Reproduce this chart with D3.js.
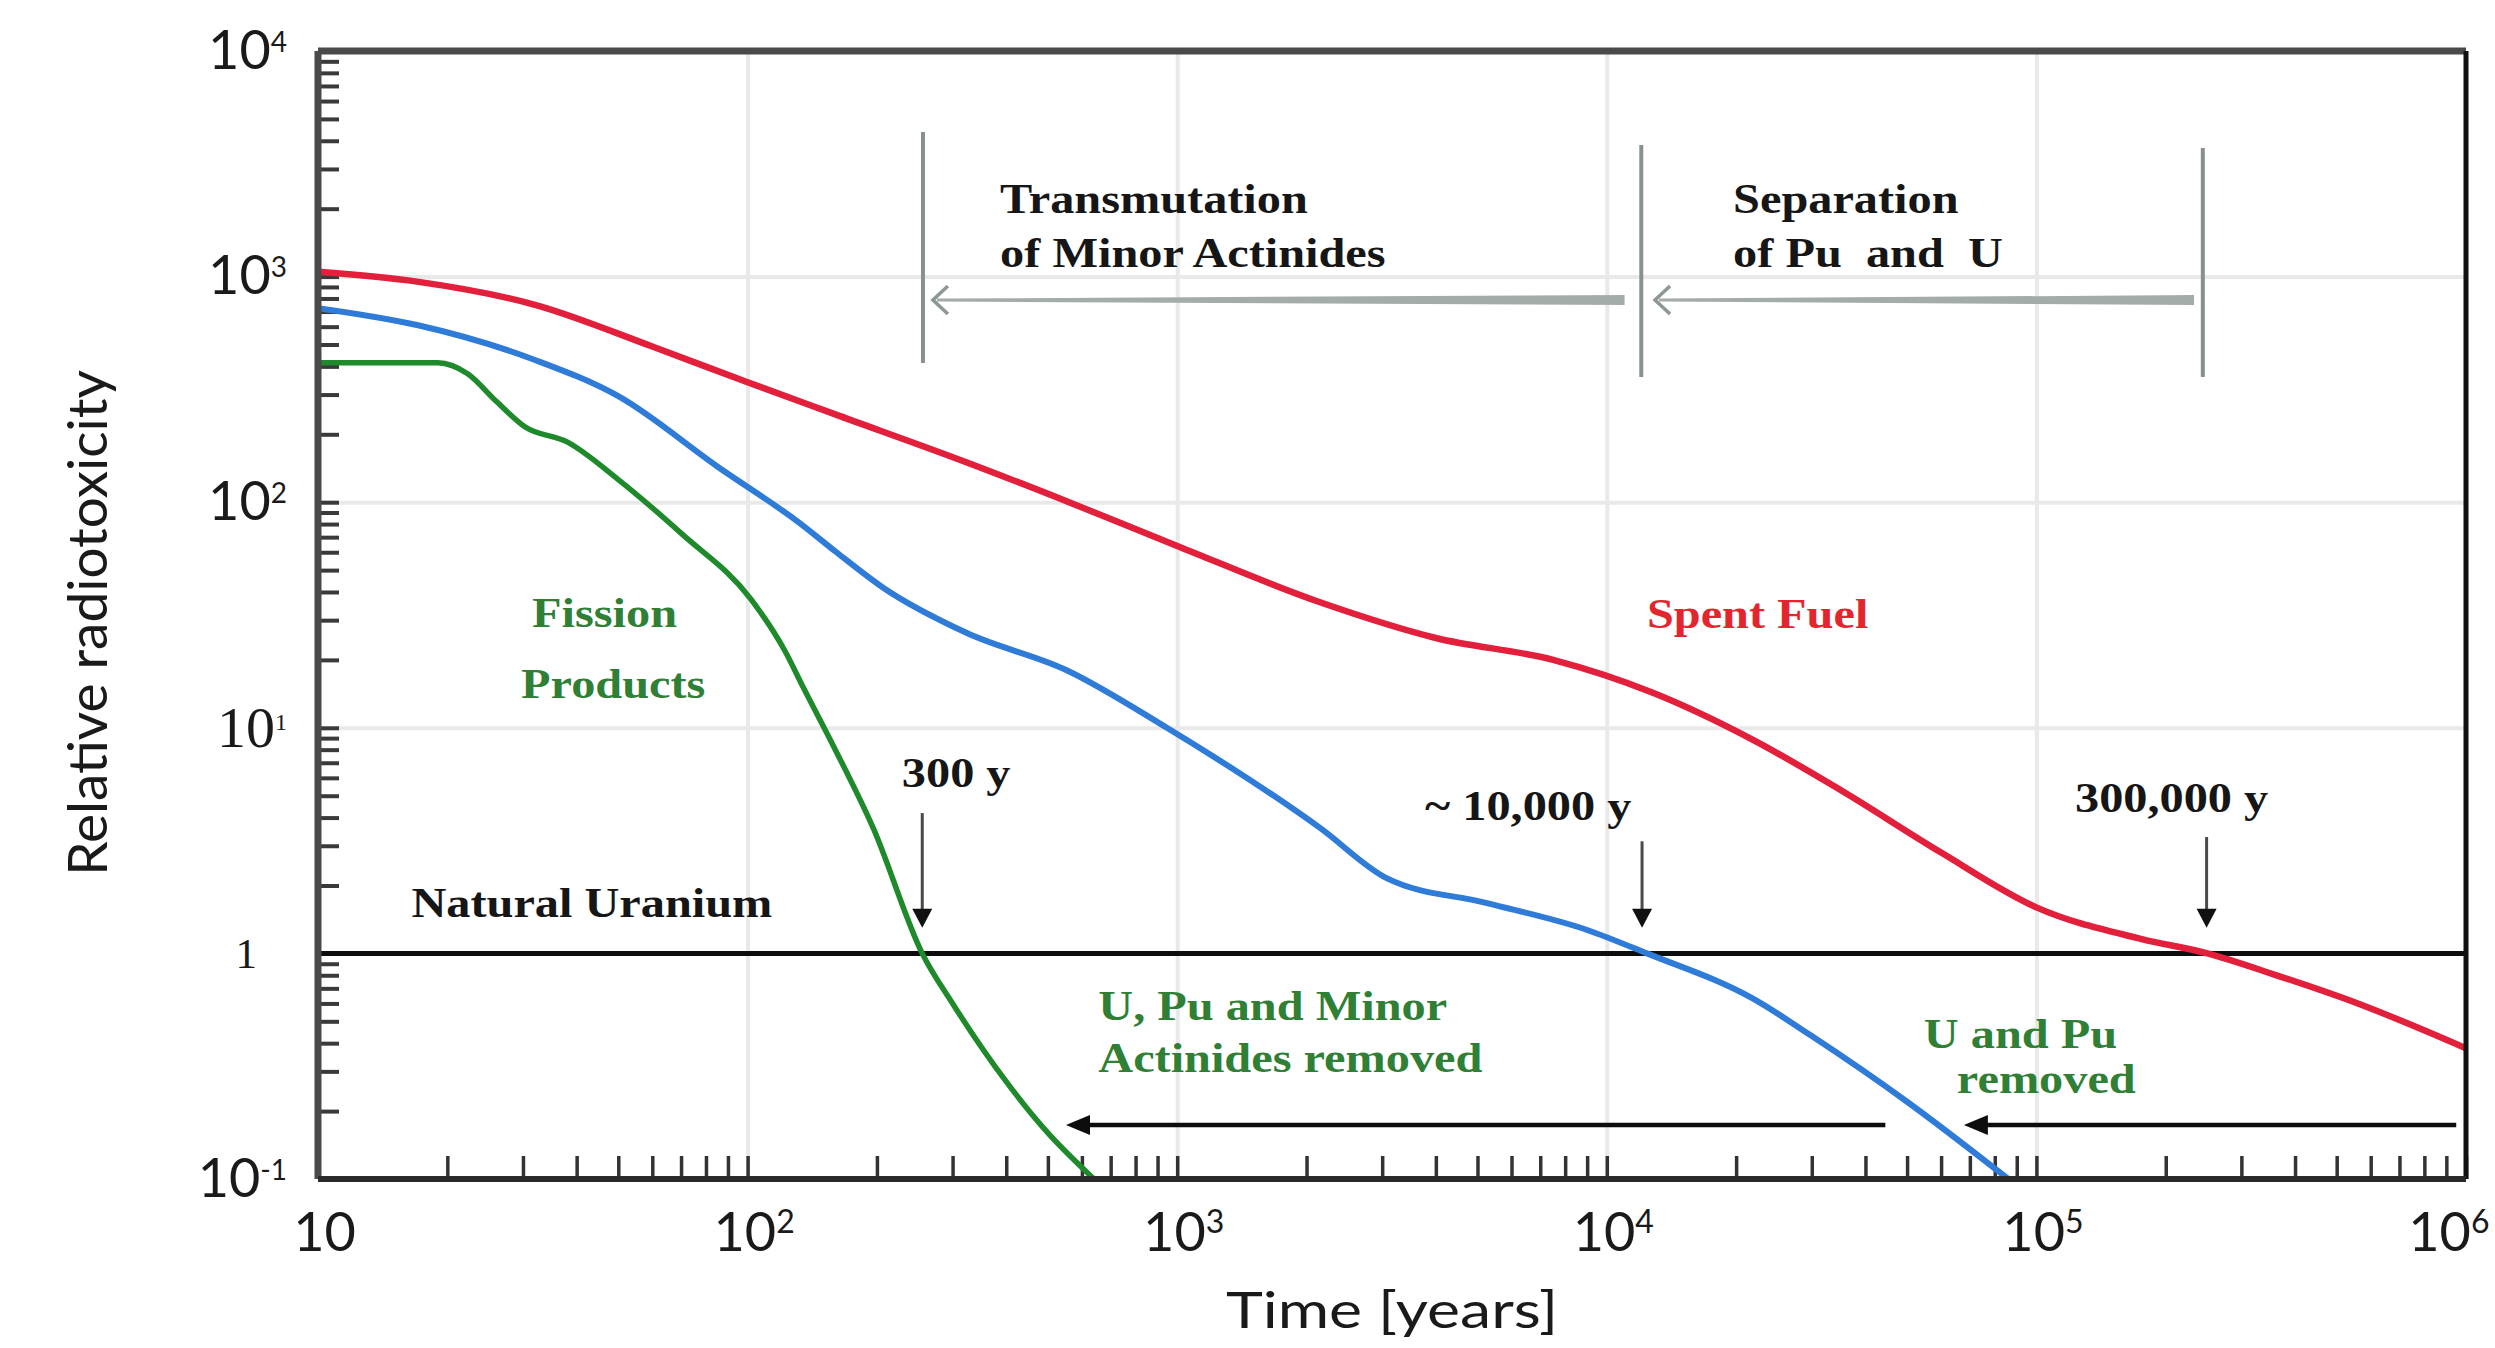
<!DOCTYPE html>
<html>
<head>
<meta charset="utf-8">
<script src="https://cdn.jsdelivr.net/npm/d3@7"></script>
<style>
  html, body { margin: 0; padding: 0; background: #fff; overflow: hidden; }
  svg { display: block; }
  .tick-label { font-family: Lato, "Open Sans", sans-serif; fill: #1a1a1a; }
  .tick-serif { font-family: "Liberation Serif", "Times New Roman", serif; fill: #1a1a1a; }
  .axis-title { font-family: Lato, "Open Sans", sans-serif; fill: #1a1a1a; }
  .note { font-family: "Liberation Serif", "Times New Roman", serif; font-weight: bold; font-size: 42px; }
</style>
</head>
<body>
<svg id="chart"></svg>
<script>
// ---- data (time in years, relative radiotoxicity) ----
// Spent fuel (red)
const spentFuelYears = [10, 17, 32, 60, 100, 160, 324, 560, 1000, 2150, 4000, 7500, 12800, 22000, 35000, 60000, 100000, 175000, 250000, 355000, 560000, 1000000];
const spentFuelTox   = [1050, 950, 750, 490, 340, 245, 150, 100, 64, 36, 25, 20, 14.3, 8.8, 5.3, 2.8, 1.6, 1.16, 1.0, 0.81, 0.6, 0.38];

// U and Pu removed (blue)
const noUPuYears = [10, 17, 32, 50, 85, 132, 161, 206, 324, 553, 946, 2150, 3080, 5260, 9000, 12400, 21900, 30000, 50000, 86000];
const noUPuTox   = [725, 610, 427, 295, 144, 81, 60, 42, 26.3, 18, 10, 3.6, 2.15, 1.67, 1.27, 1.0, 0.63, 0.43, 0.22, 0.1];

// Fission products (green)
const fissionYears = [10, 19, 22.3, 26, 30.3, 38, 50, 70.5, 102, 122, 135, 160, 196, 255, 300, 400, 500, 640];
const fissionTox   = [415, 415, 371, 280, 216, 185, 126, 72, 37, 22, 15, 8, 3.6, 1.0, 0.6, 0.27, 0.16, 0.1];

// axis labels
const xTickValues = [10, 1e2, 1e3, 1e4, 1e5, 1e6];
const xTickBase   = ['10', '10', '10', '10', '10', '10'];
const xTickExp    = ['', '2', '3', '4', '5', '6'];
const yTickValues = [0.1, 1, 10, 1e2, 1e3, 1e4];
const yTickBase   = ['10', '1', '10', '10', '10', '10'];
const yTickExp    = ['-1', '', '1', '2', '3', '4'];

// reference level (natural uranium)
const naturalUranium = 1;

// separators of the two strategies (vertical gray lines)
const sepYears  = [256, 12030, 244000];
const sepTop    = [4375, 3830, 3715];
const sepBottom = [414, 359, 359];

// gray strategy arrows
const phaseFrom  = [11000, 232800];
const phaseTo    = [270, 12950];
const phaseLevel = 787;

// black "removed" arrows
const removalFrom  = [44500, 949000];
const removalTo    = [551, 67800];
const removalLevel = 0.1734;

// down arrows marking the crossing times
const crossYears = [255, 12080, 249000];
const crossFrom  = [4.19, 3.14, 3.28];
const crossTip   = 1.3;

// text notes (start at given time / baseline at given toxicity)
const noteText  = ['Transmutation', 'of Minor Actinides', 'Separation', 'of Pu  and  U', 'Spent Fuel', 'Fission', 'Products',
                   '300 y', '~ 10,000 y', '300,000 y', 'Natural Uranium', 'U, Pu and Minor', 'Actinides removed', 'U and Pu', 'removed'];
const noteYears = [387, 387, 19680, 19680, 12400, 31.5, 29.7, 228.6, 3776, 123000, 16.5, 655, 655, 54700, 65300];
const noteTox   = [1914, 1103, 1914, 1103, 27.7, 28, 13.6, 5.47, 3.9, 4.24, 1.45, 0.507, 0.298, 0.381, 0.2405];

// ---- chart ----
const width = 2495, height = 1348;
const margin = {top: 51, right: 29, bottom: 169, left: 318};
const innerW = width - margin.left - margin.right;
const innerH = height - margin.top - margin.bottom;

const svg = d3.select('#chart').attr('width', width).attr('height', height);
const chart = svg.append('g').attr('transform', `translate(${margin.left},${margin.top})`);

const xScale = d3.scaleLog().domain([10, 1e6]).range([0, innerW]);
const yScale = d3.scaleLog().domain([0.1, 1e4]).range([innerH, 0]);

svg.append('defs').append('clipPath').attr('id', 'plot-clip')
  .append('rect').attr('width', innerW).attr('height', innerH);

// gridlines at decades
chart.append('g')
  .call(d3.axisBottom(xScale).tickValues([1e2, 1e3, 1e4, 1e5]).tickSize(innerH).tickFormat(''))
  .call(g => g.select('.domain').remove())
  .call(g => g.selectAll('line').attr('stroke', '#e9e9e9').attr('stroke-width', 4));
chart.append('g')
  .call(d3.axisLeft(yScale).tickValues([10, 1e2, 1e3]).tickSize(-innerW).tickFormat(''))
  .call(g => g.select('.domain').remove())
  .call(g => g.selectAll('line').attr('stroke', '#e9e9e9').attr('stroke-width', 4));

// minor ticks pointing into the plot
chart.append('g').attr('transform', `translate(0,${innerH})`)
  .call(d3.axisBottom(xScale).tickValues(xScale.ticks()).tickSize(-23).tickFormat(''))
  .call(g => g.select('.domain').remove())
  .call(g => g.selectAll('line').attr('stroke', '#333').attr('stroke-width', 3.5));
chart.append('g')
  .call(d3.axisLeft(yScale).tickValues(yScale.ticks()).tickSize(-21).tickFormat(''))
  .call(g => g.select('.domain').remove())
  .call(g => g.selectAll('line').attr('stroke', '#3a3a3a').attr('stroke-width', 4));

// tick labels with superscripts
const xLab = chart.append('g').attr('transform', `translate(0,${innerH})`)
  .call(d3.axisBottom(xScale).tickValues(xTickValues).tickSize(0).tickPadding(34).tickFormat((d, i) => xTickBase[i]));
xLab.select('.domain').remove();
xLab.selectAll('text')
  .attr('class', 'tick-label').style('font-size', '54px').attr('dx', 6)
  .each(function(d, i) {
    if (xTickExp[i]) d3.select(this).append('tspan').attr('dy', -18).style('font-size', '32px').text(xTickExp[i]);
  });
// last label would run past the page edge: right-align it inside the page
xLab.selectAll('text').filter(d => d === 1e6)
  .attr('text-anchor', 'end').attr('dx', margin.right - 6);

const yLab = chart.append('g')
  .call(d3.axisLeft(yScale).tickValues(yTickValues).tickSize(0).tickPadding(31).tickFormat((d, i) => yTickBase[i]));
yLab.select('.domain').remove();
yLab.selectAll('text')
  .attr('class', d => (d === 1 || d === 10) ? 'tick-serif' : 'tick-label')
  .style('font-size', d => d === 1 ? '43px' : (d === 10 ? '58px' : '54px'))
  .attr('dx', d => d === 1 ? -30 : 0)
  .each(function(d, i) {
    if (yTickExp[i]) d3.select(this).append('tspan').attr('dy', -17).style('font-size', d === 10 ? '24px' : '28px').text(yTickExp[i]);
  });

// natural uranium level
chart.append('line')
  .attr('x1', 0).attr('x2', innerW)
  .attr('y1', yScale(naturalUranium)).attr('y2', yScale(naturalUranium))
  .attr('stroke', '#0d0d0d').attr('stroke-width', 5);

// curves
const line = d3.line()
  .x(d => xScale(d[0]))
  .y(d => yScale(d[1]))
  .curve(d3.curveMonotoneX);

const series = [
  {years: spentFuelYears, tox: spentFuelTox, color: '#e2203c', w: 6.5},
  {years: noUPuYears, tox: noUPuTox, color: '#2f7bd8', w: 6},
  {years: fissionYears, tox: fissionTox, color: '#1f8a2b', w: 5.5}
];
chart.append('g').attr('clip-path', 'url(#plot-clip)')
  .selectAll('path').data(series).join('path')
  .attr('d', s => line(s.years.map((t, i) => [t, s.tox[i]])))
  .attr('fill', 'none')
  .attr('stroke', s => s.color)
  .attr('stroke-width', s => s.w)
  .attr('stroke-linejoin', 'round');

// frame
chart.append('line').attr('x1', 0).attr('x2', innerW).attr('y1', 0).attr('y2', 0).attr('stroke', '#4a4a4a').attr('stroke-width', 7);
chart.append('line').attr('x1', 0).attr('x2', 0).attr('y1', 0).attr('y2', innerH).attr('stroke', '#4a4a4a').attr('stroke-width', 7);
chart.append('line').attr('x1', innerW).attr('x2', innerW).attr('y1', 0).attr('y2', innerH).attr('stroke', '#111').attr('stroke-width', 5);
chart.append('line').attr('x1', 0).attr('x2', innerW).attr('y1', innerH).attr('y2', innerH).attr('stroke', '#2a2a2a').attr('stroke-width', 6);

// separators
chart.append('g').selectAll('line').data(sepYears).join('line')
  .attr('x1', d => xScale(d)).attr('x2', d => xScale(d))
  .attr('y1', (d, i) => yScale(sepTop[i])).attr('y2', (d, i) => yScale(sepBottom[i]))
  .attr('stroke', '#87918d').attr('stroke-width', 4);

// gray strategy arrows (tapered)
const grayArrows = chart.append('g');
phaseFrom.forEach((from, i) => {
  const x0 = xScale(phaseTo[i]), x1 = xScale(from), yy = yScale(phaseLevel);
  grayArrows.append('path')
    .attr('d', `M${x0 + 4},${yy - 1.5}L${x1},${yy - 5}L${x1},${yy + 5}L${x0 + 4},${yy + 1.5}Z`)
    .attr('fill', '#a4acaa');
  grayArrows.append('path')
    .attr('d', `M${x0 + 15},${yy - 14}L${x0},${yy}L${x0 + 15},${yy + 14}`)
    .attr('fill', 'none').attr('stroke', '#8d9794').attr('stroke-width', 3.5);
});

// black removal arrows
const blackArrows = chart.append('g');
removalFrom.forEach((from, i) => {
  const x0 = xScale(removalTo[i]), x1 = xScale(from), yy = yScale(removalLevel);
  blackArrows.append('line')
    .attr('x1', x0 + 20).attr('x2', x1).attr('y1', yy).attr('y2', yy)
    .attr('stroke', '#0d0d0d').attr('stroke-width', 4.5);
  blackArrows.append('path')
    .attr('d', `M${x0},${yy}L${x0 + 24},${yy - 10}L${x0 + 24},${yy + 10}Z`)
    .attr('fill', '#0d0d0d');
});

// down arrows
const downArrows = chart.append('g');
crossYears.forEach((t, i) => {
  const xx = xScale(t), yTop = yScale(crossFrom[i]), yTip = yScale(crossTip);
  downArrows.append('line')
    .attr('x1', xx).attr('x2', xx).attr('y1', yTop).attr('y2', yTip - 16)
    .attr('stroke', '#4a4a4a').attr('stroke-width', 3);
  downArrows.append('path')
    .attr('d', `M${xx},${yTip}L${xx - 10},${yTip - 19}L${xx + 10},${yTip - 19}Z`)
    .attr('fill', '#111');
});

// notes
const redNotes = new Set(['Spent Fuel']);
const greenNotes = new Set(['Fission', 'Products', 'U, Pu and Minor', 'Actinides removed', 'U and Pu', 'removed']);

function stretch(sel, k) {
  sel.each(function() {
    const w = this.getComputedTextLength();
    d3.select(this).attr('textLength', w * k).attr('lengthAdjust', 'spacingAndGlyphs');
  });
}

const notes = chart.append('g').selectAll('text').data(noteText).join('text')
  .attr('class', 'note')
  .attr('x', (d, i) => xScale(noteYears[i]))
  .attr('y', (d, i) => yScale(noteTox[i]))
  .attr('fill', d => redNotes.has(d) ? '#e3262e' : (greenNotes.has(d) ? '#2f7f35' : '#161616'))
  .style('white-space', 'pre')
  .text(d => d);
stretch(notes, 1.15);

// axis titles
const xTitle = chart.append('text')
  .attr('class', 'axis-title')
  .attr('x', innerW / 2).attr('y', innerH + 149)
  .attr('text-anchor', 'middle')
  .style('font-size', '50px')
  .text('Time [years]');
stretch(xTitle, 1.25);

chart.append('text')
  .attr('class', 'axis-title')
  .attr('transform', `translate(-211,${innerH / 2 + 8}) rotate(-90)`)
  .attr('text-anchor', 'middle')
  .style('font-size', '55px')
  .text('Relative radiotoxicity');
</script>
</body>
</html>
